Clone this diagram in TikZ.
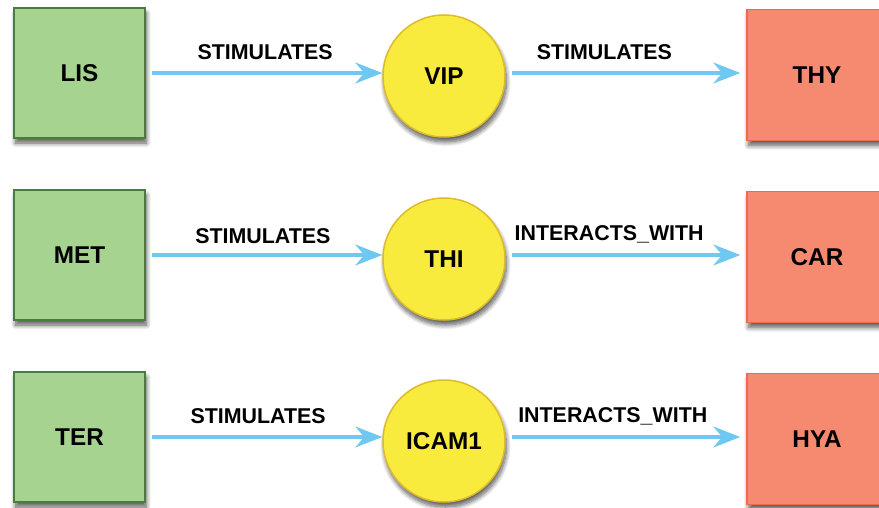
\documentclass[tikz,border=0pt]{standalone}
\usepackage{fontspec}
\setmainfont{Liberation Sans}
\usetikzlibrary{arrows.meta,shadows.blur}
\definecolor{gfill}{HTML}{A6D38F}
\definecolor{gline}{HTML}{4A7C3E}
\definecolor{rfill}{HTML}{F58A70}
\definecolor{rline}{HTML}{EE6A4C}
\definecolor{yfill}{HTML}{F9EB3D}
\definecolor{yline}{HTML}{DDBB2C}
\definecolor{arr}{HTML}{6EC8F1}
\tikzset{
  shad/.style={blur shadow={shadow xshift=1.5pt, shadow yshift=-5pt, shadow blur steps=10, shadow blur radius=4.5pt, shadow opacity=65}},
  srcbox/.style={shad, draw=gline, fill=gfill, line width=1.5pt, minimum width=131pt, minimum height=130pt, inner sep=0pt, font=\fontsize{24.3}{27}\selectfont\bfseries},
  tgtbox/.style={shad, draw=rline, fill=rfill, line width=1.5pt, minimum width=140pt, minimum height=131pt, inner sep=0pt, font=\fontsize{24.3}{27}\selectfont\bfseries},
  hub/.style={shad, circle, draw=yline, fill=yfill, line width=1.5pt, minimum size=122pt, inner sep=0pt, font=\fontsize{24.3}{27}\selectfont\bfseries},
  rel/.style={draw=arr, line width=3.3pt, -{Stealth[length=27pt, width=21pt, inset=9pt]}},
  lab/.style={font=\fontsize{21.4}{25}\selectfont\bfseries, text=black, yshift=21pt}
}
\begin{document}
\begin{tikzpicture}[x=1pt,y=-1pt]
\useasboundingbox (0,0) rectangle (879,508);
% row 1
\node[srcbox] (lis) at (79.5,73) {LIS};
\node[hub] (vip) at (444,76) {VIP};
\node[tgtbox] (thy) at (817,75) {THY};
% row 2
\node[srcbox] (met) at (79.5,255) {MET};
\node[hub] (thi) at (444,259) {THI};
\node[tgtbox] (car) at (817,257) {CAR};
% row 3
\node[srcbox] (ter) at (79.5,437) {TER};
\node[hub] (icam) at (444,441) {ICAM1};
\node[tgtbox] (hya) at (817,439) {HYA};
% arrows
\draw[rel, shorten <=6pt] (lis.east) -- (lis.east -| vip.west) node[lab, pos=0.505] {STIMULATES};
\draw[rel, shorten <=6pt, shorten >=6pt] (vip.east |- lis.east) -- (lis.east -| thy.west) node[lab, pos=0.41] {STIMULATES};
\draw[rel, shorten <=6pt] (met.east) -- (met.east -| thi.west) node[lab, pos=0.495, yshift=-2pt] {STIMULATES};
\draw[rel, shorten <=6pt, shorten >=6pt] (thi.east |- met.east) -- (met.east -| car.west) node[lab, pos=0.43] {INTERACTS\_WITH};
\draw[rel, shorten <=6pt] (ter.east) -- (ter.east -| icam.west) node[lab, pos=0.475] {STIMULATES};
\draw[rel, shorten <=6pt, shorten >=6pt] (icam.east |- ter.east) -- (ter.east -| hya.west) node[lab, pos=0.445] {INTERACTS\_WITH};
\end{tikzpicture}
\end{document}
